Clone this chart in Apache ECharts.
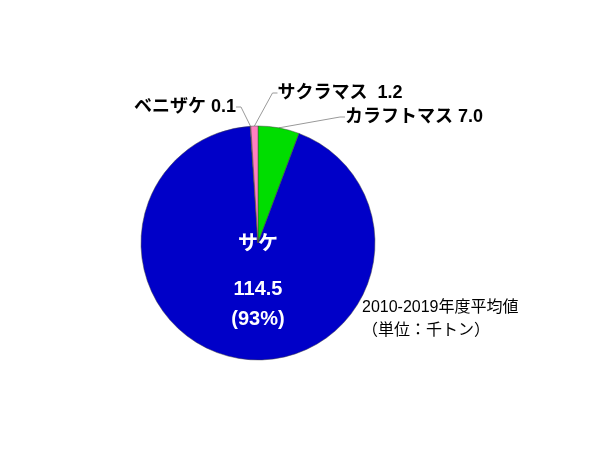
<!DOCTYPE html><html><head><meta charset="utf-8"><script src="https://cdn.jsdelivr.net/npm/echarts@6/dist/echarts.min.js"></script></head><body style="margin:0"><div id="c" style="width:600px;height:450px"></div><script>
const names=['カラフトマス','サケ','ベニザケ','サクラマス'];
const values=[7.0,114.5,0.1,1.2];
const colors=['#00DD00','#0000C8','#FF80C0','#FF80C0'];
const labelPos=[[414,117],[258,283],[185,107],[340,93]];
const ch=echarts.init(document.getElementById('c'));
const f='"Liberation Sans","Noto Sans CJK JP",sans-serif';
ch.setOption({animation:false,
series:[{type:'pie',center:[258,243],radius:[0,117],startAngle:90,clockwise:true,
itemStyle:{borderColor:'#444',borderWidth:0.5},
label:{show:true,fontFamily:f,fontWeight:'bold',fontSize:18,color:'#000',
formatter:p=>p.dataIndex===1?'{a|サケ}\n\n{b|114.5}\n{b|(93%)}':p.name+(p.dataIndex===3?'  ':' ')+p.value.toFixed(1),
rich:{a:{color:'#fff',fontSize:20,fontWeight:'bold',fontFamily:f,lineHeight:24},b:{color:'#fff',fontSize:20,fontWeight:'bold',fontFamily:f,lineHeight:30}}},
labelLine:{show:true,lineStyle:{color:'#999',width:1},length:8,length2:5},
labelLayout:p=>({x:labelPos[p.dataIndex][0],y:labelPos[p.dataIndex][1],align:'center',verticalAlign:'middle'}),
data:names.map((n,i)=>({name:n,value:values[i],itemStyle:{color:colors[i]},labelLine:{show:i!==1}}))}],
graphic:[{type:'text',left:362,top:296,style:{text:'2010-2019年度平均値\n（単位：千トン）',font:'16px '+f,fill:'#000',lineHeight:23,align:'left'}}]
});
</script></body></html>
